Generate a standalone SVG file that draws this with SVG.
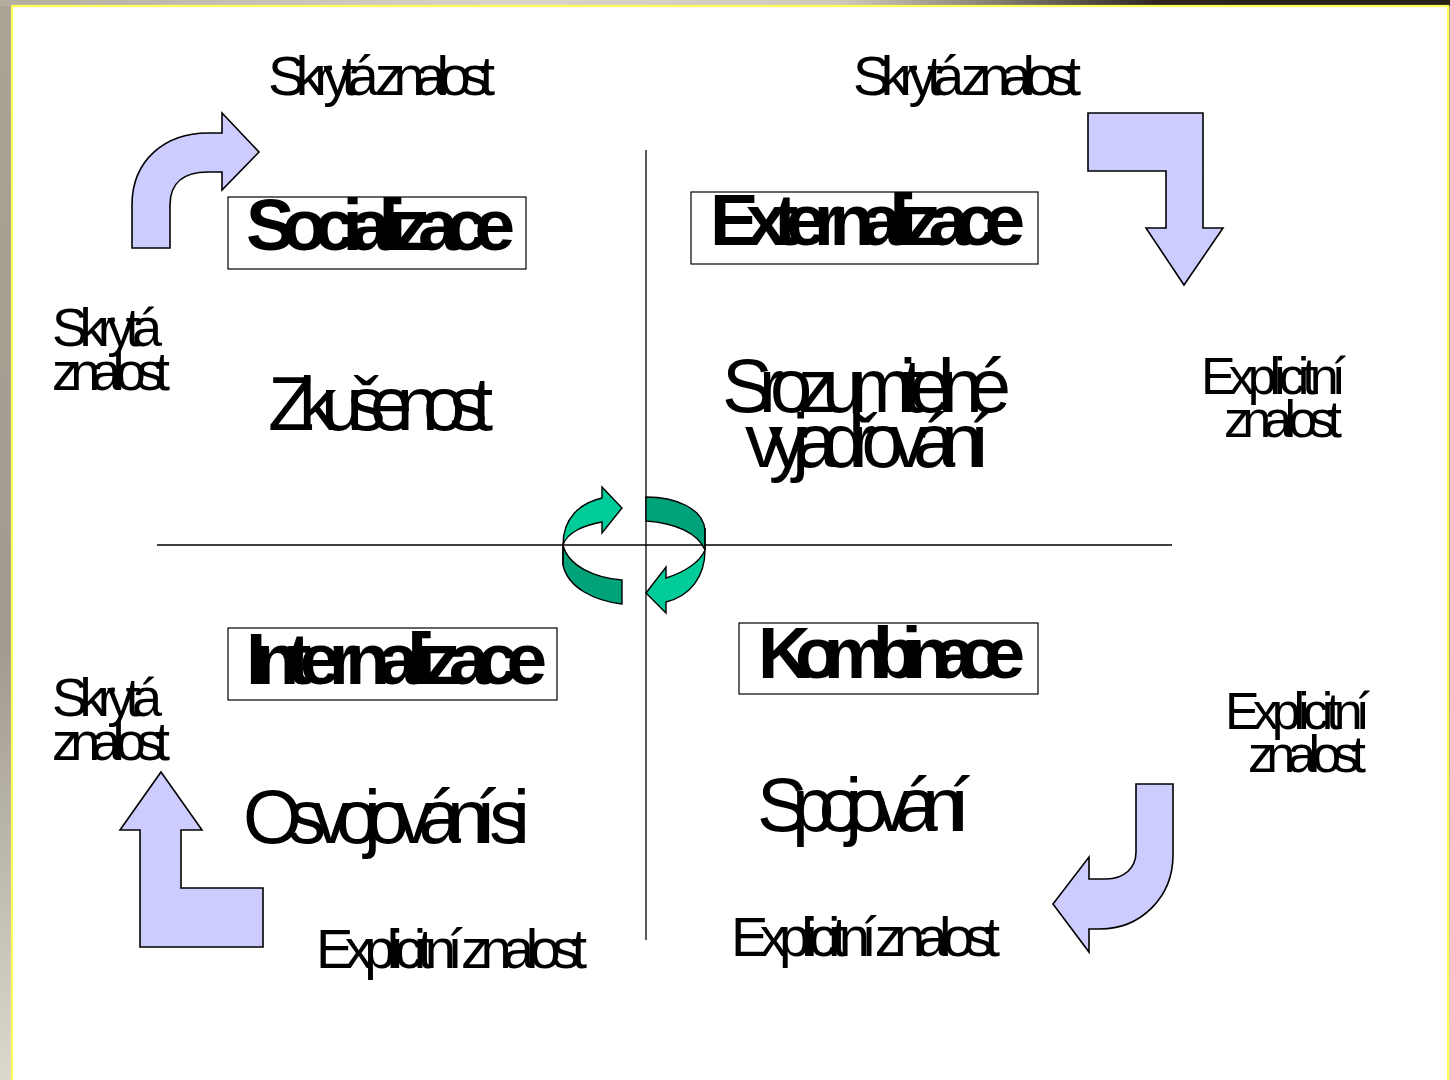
<svg xmlns="http://www.w3.org/2000/svg" width="1450" height="1080" viewBox="0 0 1450 1080">
<defs>
<linearGradient id="topg" x1="0" y1="0" x2="1" y2="0">
<stop offset="0" stop-color="#b3ada0"/>
<stop offset="0.35" stop-color="#d9d5c9"/>
<stop offset="0.58" stop-color="#cfc9bc"/>
<stop offset="0.68" stop-color="#8a8275"/>
<stop offset="0.8" stop-color="#2e241d"/>
<stop offset="1" stop-color="#2a201a"/>
</linearGradient>
<linearGradient id="leftg" x1="0" y1="0" x2="0" y2="1">
<stop offset="0" stop-color="#aaa496"/>
<stop offset="0.6" stop-color="#a19b8f"/>
<stop offset="1" stop-color="#dcd8cd"/>
</linearGradient>
<style>
.t{font-family:"Liberation Sans",Arial,sans-serif;fill:#000}
.b{font-weight:bold}
.box{fill:#fff;stroke:#000;stroke-width:1.2}
.pa{fill:#ccccff;stroke:#000;stroke-width:1.6;stroke-linejoin:miter}
.gl{fill:#00cc99;stroke:#000;stroke-width:1.4}
.gd{fill:#00a27a;stroke:#000;stroke-width:1.4}
.ln{stroke:#000;stroke-width:1.3;fill:none}
</style>
</defs>
<g id="background">
<rect x="0" y="0" width="1450" height="1080" fill="url(#leftg)"/>
<rect x="0" y="0" width="1450" height="6" fill="url(#topg)"/>
<rect x="12" y="6" width="1436" height="1080" fill="#fff" stroke="#ffff55" stroke-width="2.2"/>
</g>
<g id="connectors">
<line class="ln" x1="646" y1="150" x2="646" y2="940"/>
<line class="ln" x1="157" y1="545" x2="1172" y2="545"/>
<path id="arrow-tl" class="pa" d="M132,248 L132,205 C132,160 165,133 208,133 L222,133 L222,113 L259,152 L222,190 L222,172 L208,172 C185,172 170,182 170,205 L170,248 Z"/>
<path id="arrow-tr" class="pa" d="M1088,113 L1203,113 L1203,228 L1223,228 L1184,285 L1146,228 L1166,228 L1166,171 L1088,171 Z"/>
<path id="arrow-bl" class="pa" d="M161,772 L202,830 L181,830 L181,888 L263,888 L263,947 L140,947 L140,830 L120,830 Z"/>
<path id="arrow-br" class="pa" d="M1136,784 L1173,784 L1173,855 C1173,898 1140,929 1100,929 L1089,929 L1089,952 L1053,904 L1089,857 L1089,879 L1106,879 C1124,879 1136,868 1136,852 Z"/>
<g id="cycle">
<path class="gd" d="M563,545 L563,565 C568,588 595,601 622,604 L622,580 C595,578 568,566 563,545 Z"/>
<path class="gl" d="M563,565 L563,545 C563,518 580,503 602,498 L602,487 L622,508 L602,533 L602,522 C585,525 567,532 563,545"/>
<path class="gd" d="M646,497 C675,497 703,508 705,530 L705,550 C698,533 675,523 646,521 Z"/>
<path class="gl" d="M705,528 L705,550 C705,577 690,596 666,602 L666,613 L646,593 L666,567 L666,578 C685,572 700,562 705,550"/>
</g>
</g>
<g id="node-socializace">
<rect class="box" x="228" y="197" width="298" height="72"/>
<text class="t b" x="246" y="250" font-size="73" textLength="269" lengthAdjust="spacing">Socializace</text>
</g>
<g id="node-externalizace">
<rect class="box" x="691" y="192" width="347" height="72"/>
<text class="t b" x="710" y="245" font-size="73" textLength="315" lengthAdjust="spacing">Externalizace</text>
</g>
<g id="node-internalizace">
<rect class="box" x="228" y="628" width="329" height="72"/>
<text class="t b" x="246" y="684" font-size="73" textLength="301" lengthAdjust="spacing">Internalizace</text>
</g>
<g id="node-kombinace">
<rect class="box" x="739" y="623" width="299" height="71"/>
<text class="t b" x="758" y="678" font-size="73" textLength="267" lengthAdjust="spacing">Kombinace</text>
</g>
<g id="labels">
<text class="t" x="268" y="95" font-size="56" textLength="227" lengthAdjust="spacing">Skrytá znalost</text>
<text class="t" x="853" y="95" font-size="56" textLength="228" lengthAdjust="spacing">Skrytá znalost</text>
<text class="t" x="52" y="346" font-size="54" textLength="110" lengthAdjust="spacing">Skrytá</text>
<text class="t" x="52" y="390" font-size="54" textLength="118" lengthAdjust="spacing">znalost</text>
<text class="t" x="268" y="430" font-size="76" textLength="225" lengthAdjust="spacing">Zkušenost</text>
<text class="t" x="722" y="412" font-size="76" textLength="289" lengthAdjust="spacing">Srozumitelné</text>
<text class="t" x="745" y="467" font-size="76" textLength="245" lengthAdjust="spacing">vyjadřování</text>
<text class="t" x="1201" y="394" font-size="52" textLength="145" lengthAdjust="spacing">Explicitní</text>
<text class="t" x="1224" y="437" font-size="52" textLength="118" lengthAdjust="spacing">znalost</text>
<text class="t" x="52" y="716" font-size="54" textLength="110" lengthAdjust="spacing">Skrytá</text>
<text class="t" x="52" y="760" font-size="54" textLength="118" lengthAdjust="spacing">znalost</text>
<text class="t" x="243" y="843" font-size="76" textLength="287" lengthAdjust="spacing">Osvojování si</text>
<text class="t" x="316" y="968" font-size="56" textLength="271" lengthAdjust="spacing">Explicitní znalost</text>
<text class="t" x="757" y="831" font-size="76" textLength="213" lengthAdjust="spacing">Spojování</text>
<text class="t" x="731" y="956" font-size="56" textLength="269" lengthAdjust="spacing">Explicitní znalost</text>
<text class="t" x="1225" y="729" font-size="52" textLength="145" lengthAdjust="spacing">Explicitní</text>
<text class="t" x="1248" y="772" font-size="52" textLength="118" lengthAdjust="spacing">znalost</text>
</g>
</svg>
